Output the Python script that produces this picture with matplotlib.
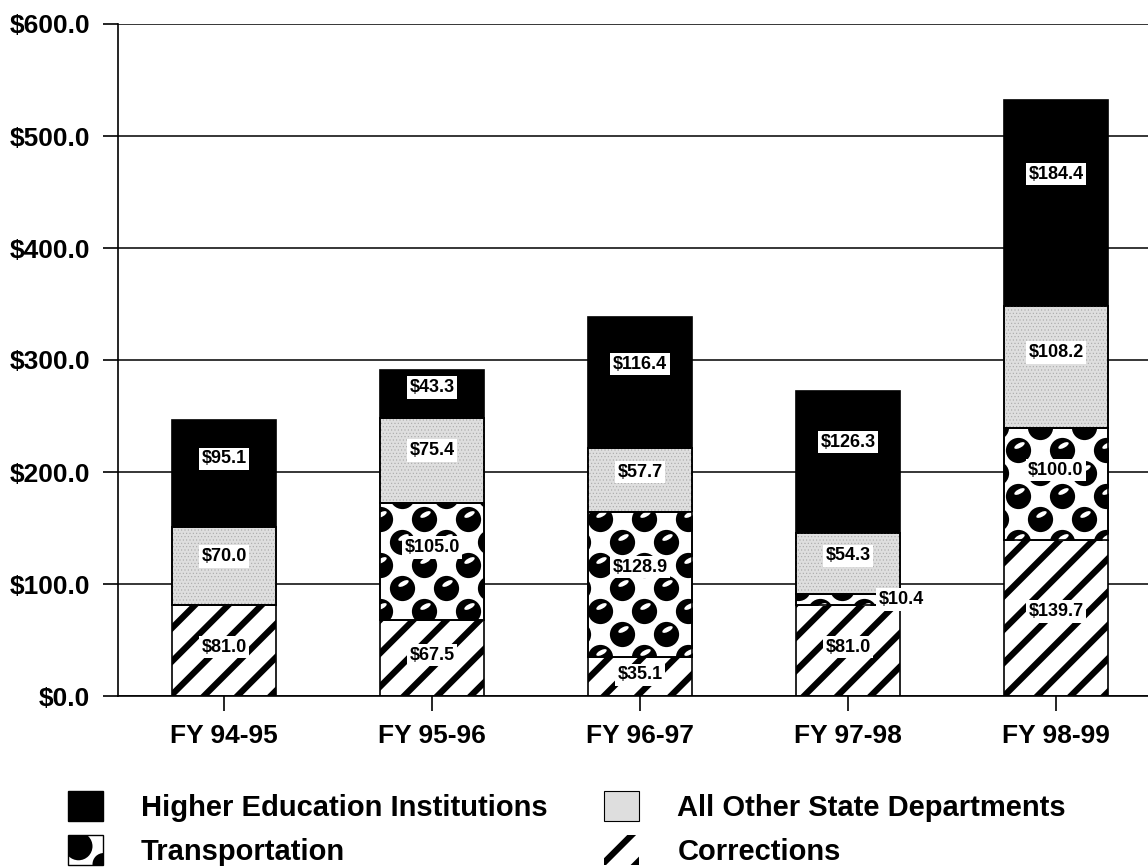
import numpy as np
import matplotlib.pyplot as plt
from matplotlib.patches import Rectangle, Circle
from matplotlib.legend_handler import HandlerBase
from matplotlib.path import Path
from matplotlib.transforms import Affine2D
from matplotlib.ticker import FuncFormatter

years = ['FY 94-95', 'FY 95-96', 'FY 96-97', 'FY 97-98', 'FY 98-99']
corrections = [81.0, 67.5, 35.1, 81.0, 139.7]
transportation = [0.0, 105.0, 128.9, 10.4, 100.0]
other_depts = [70.0, 75.4, 57.7, 54.3, 108.2]
higher_ed = [95.1, 43.3, 116.4, 126.3, 184.4]
y_ticks = [0, 100, 200, 300, 400, 500, 600]
series_names = ['Higher Education Institutions', 'Transportation',
                'All Other State Departments', 'Corrections']

plt.rcParams['font.family'] = ['Liberation Sans', 'DejaVu Sans']
plt.rcParams['font.weight'] = 'bold'
plt.rcParams['hatch.linewidth'] = 4.5

W, H = 1148, 868
GRAY = '#dedede'


class BallHandler(HandlerBase):
    # legend icon for the "balls" fill
    def create_artists(self, legend, orig_handle, xdescent, ydescent,
                       width, height, fontsize, trans):
        x0, y0 = -xdescent, -ydescent
        box = Rectangle((x0, y0), width, height, facecolor='white',
                        edgecolor='black', linewidth=1, transform=trans)
        big = Circle((x0 + 0.3 * width, y0 + 0.62 * height), 0.4 * width,
                     facecolor='black', edgecolor='none', transform=trans)
        small = Circle((x0 + 1.02 * width, y0 + 0.02 * height), 0.32 * width,
                       facecolor='black', edgecolor='none', transform=trans)
        big.set_clip_path(box)
        small.set_clip_path(box)
        return [box, big, small]


fig = plt.figure(figsize=(W / 100, H / 100), dpi=100)
ax = fig.add_axes([118 / W, 172 / H, 1 - 118 / W, 672 / H])

x = np.arange(len(years))
width = 0.5
c = np.array(corrections)
t = np.array(transportation)
o = np.array(other_depts)
h = np.array(higher_ed)

kw = dict(width=width, edgecolor='black', linewidth=1.2, zorder=2)
b_cor = ax.bar(x, c, facecolor='white', hatch='/', **kw)
b_tr = ax.bar(x, t, bottom=c, facecolor='white', **kw)
b_oth = ax.bar(x, o, bottom=c + t, facecolor=GRAY, **kw)
b_he = ax.bar(x, h, bottom=c + t + o, facecolor='black', **kw)

# fine stipple over the gray segments, if per-patch hatch width is supported
stip = ax.bar(x, o, bottom=c + t, width=width, fill=False, hatch='.....',
              edgecolor='#a8a8a8', linewidth=0, zorder=2.05)
if hasattr(stip[0], 'set_hatch_linewidth'):
    for p in stip:
        p.set_hatch_linewidth(0.4)
else:
    for p in stip:
        p.set_visible(False)
ax.bar(x, o, bottom=c + t, width=width, fill=False, edgecolor='black',
       linewidth=1.2, zorder=2.1)

ax.set_xlim(-106 / 208, (W - 224) / 208)
ax.set_ylim(0, 600)

# ball pattern for transportation, laid out in pixels and clipped to each bar
to_data = ax.transData.inverted()
hl_marker = Path.unit_circle().transformed(Affine2D().scale(1, 0.4).rotate_deg(28))
for bar in b_tr:
    if bar.get_height() <= 0:
        continue
    bb = bar.get_window_extent()
    px = []
    for k in range(int(bb.y0 // 23) - 1, int(bb.y1 // 23) + 2):
        shift = 22 if k % 2 else 0
        for j in range(int(bb.x0 // 44) - 1, int(bb.x1 // 44) + 2):
            px.append((j * 44 + shift + 6, k * 23 + 4))
    px = np.array(px, dtype=float)
    pts = to_data.transform(px)
    sc = ax.scatter(pts[:, 0], pts[:, 1], s=330, c='black', linewidths=0, zorder=3)
    sc.set_clip_path(bar)
    hp = to_data.transform(px + [1, 5])
    hs = ax.scatter(hp[:, 0], hp[:, 1], s=60, c='white', marker=hl_marker,
                    linewidths=0, zorder=3.1)
    hs.set_clip_path(bar)
ax.bar(x, t, bottom=c, width=width, fill=False, edgecolor='black',
       linewidth=1.2, zorder=3.5)

# value labels, a little above the middle of each segment
label_box = dict(boxstyle='square,pad=0.15', facecolor='white', edgecolor='none')
label_frac = [0.54, 0.62, 0.62, 0.64]
segments = zip([c, t, o, h], [np.zeros(len(x)), c, c + t, c + t + o], label_frac)
for vals, bots, frac in segments:
    for xi, v, b in zip(x, vals, bots):
        if v <= 0:
            continue
        if v < 20:
            ax.text(xi + 0.15, b + v / 2, f'\\${v:.1f}', ha='left', va='center',
                    fontsize=13, fontweight='bold', bbox=label_box, zorder=5)
        else:
            ax.text(xi, b + v * frac, f'\\${v:.1f}', ha='center', va='center',
                    fontsize=13, fontweight='bold', bbox=label_box, zorder=5)

ax.set_yticks(y_ticks)
ax.yaxis.set_major_formatter(FuncFormatter(lambda v, p: f'\\${v:.1f}'))
ax.set_xticks(x)
ax.set_xticklabels(years)
ax.tick_params(axis='both', direction='out', length=11, width=1.2,
               labelsize=19, pad=9, color='black')
for lab in ax.get_xticklabels() + ax.get_yticklabels():
    lab.set_fontweight('bold')

ax.grid(axis='y', color='black', linewidth=1.1)
ax.set_axisbelow(True)
ax.spines['top'].set_visible(False)
ax.spines['right'].set_visible(False)
ax.spines['left'].set_linewidth(1.2)
ax.spines['bottom'].set_linewidth(1.2)

he_h = Rectangle((0, 0), 1, 1, facecolor='black', edgecolor='black')
tr_h = Rectangle((0, 0), 1, 1, facecolor='white', edgecolor='black')
oth_h = Rectangle((0, 0), 1, 1, facecolor=GRAY, edgecolor='black', linewidth=0.8)
cor_h = Rectangle((0, 0), 1, 1, facecolor='white', edgecolor='black',
                  hatch='/', linewidth=0)
fig.legend([he_h, tr_h, oth_h, cor_h], series_names, ncol=2,
           loc='upper left', bbox_to_anchor=(68 / W, 1 - 791 / H),
           frameon=False, prop={'size': 21, 'weight': 'bold'},
           handlelength=1.2, handleheight=1.2, handletextpad=1.3,
           labelspacing=0.45, columnspacing=1.95, borderpad=0, borderaxespad=0,
           handler_map={tr_h: BallHandler()})

fig.savefig('out.png', dpi=100)
